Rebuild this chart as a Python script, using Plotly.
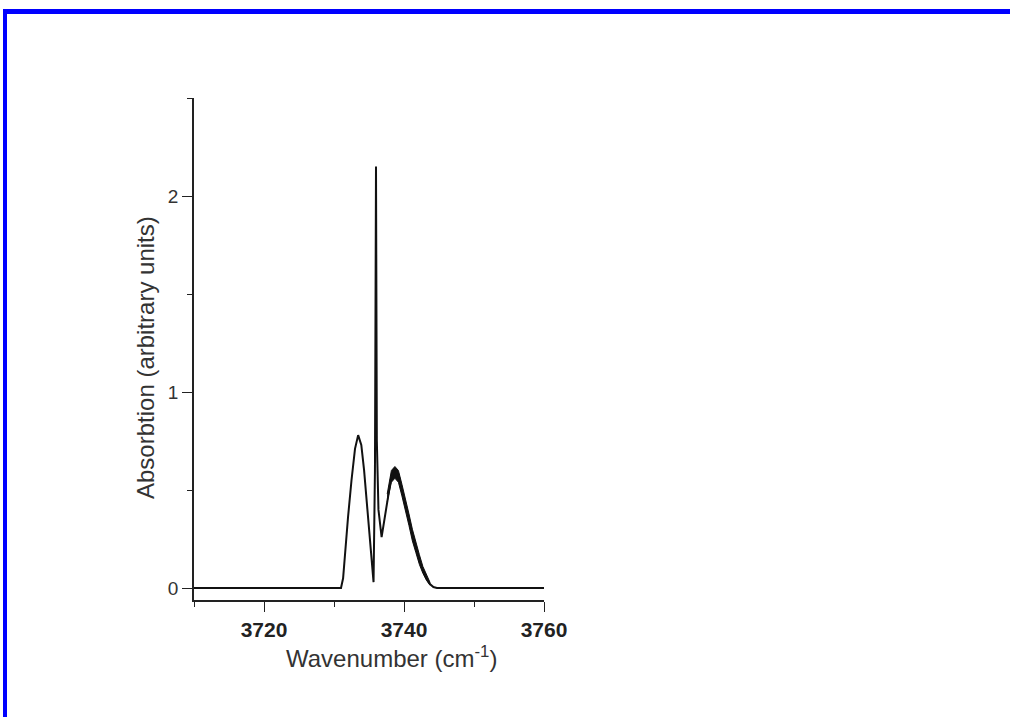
import plotly.graph_objects as go

# ---- data ----
wavenumber = [3710.0, 3731.0, 3731.3, 3731.6, 3732.0, 3732.5, 3733.0, 3733.45, 3733.9,
              3734.3, 3734.7, 3735.1, 3735.4, 3735.65, 3735.85, 3736.0, 3736.12, 3736.35,
              3736.8, 3737.2, 3737.7, 3738.2, 3738.7, 3739.2, 3739.7, 3740.2, 3740.7,
              3741.2, 3741.7, 3742.2, 3742.7, 3743.2, 3743.7, 3744.2, 3744.7, 3760.0]
absorption = [0.0, 0.0, 0.05, 0.2, 0.36, 0.55, 0.71, 0.78, 0.73,
              0.6, 0.43, 0.25, 0.1, 0.03, 0.6, 2.15, 0.75, 0.4,
              0.26, 0.35, 0.48, 0.57, 0.61, 0.58, 0.5, 0.43, 0.35,
              0.27, 0.2, 0.14, 0.09, 0.05, 0.02, 0.005, 0.0, 0.0]

# noisy band (upper / lower envelope) on the right-hand peak
band_x = [3737.6, 3738.2, 3738.7, 3739.2, 3739.7, 3740.2, 3740.7, 3741.2, 3741.7,
          3742.2, 3742.7, 3743.2, 3743.7]
band_upper = [0.48, 0.60, 0.62, 0.60, 0.53, 0.46, 0.38, 0.30, 0.23, 0.17, 0.11, 0.065, 0.03]
band_lower = [0.44, 0.54, 0.56, 0.54, 0.47, 0.40, 0.32, 0.24, 0.18, 0.12, 0.075, 0.04, 0.015]

x_tick_vals = [3720, 3740, 3760]
y_tick_vals = [0, 1, 2]

# ---- layout geometry ----
W, H = 1010, 717
L, R, T, B = 194, 544, 98, 600


def px(x):
    return (x - L) / (R - L)


def py(y):
    return (B - y) / (B - T)


fig = go.Figure()

fig.add_trace(go.Scatter(
    x=band_x + band_x[::-1], y=band_upper + band_lower[::-1],
    fill="toself", fillcolor="#111111", line=dict(color="#111111", width=1),
    mode="lines", hoverinfo="skip", showlegend=False))

fig.add_trace(go.Scatter(
    x=wavenumber, y=absorption, mode="lines",
    line=dict(color="#111111", width=2), showlegend=False))

axis_common = dict(showgrid=False, zeroline=False, showline=True,
                   linecolor="#222222", linewidth=1.6, ticks="outside",
                   tickcolor="#222222", tickwidth=1.4, mirror=False)

fig.update_xaxes(range=[3710, 3760], tickvals=x_tick_vals,
                 ticktext=[f"<b>{v}</b>" for v in x_tick_vals],
                 ticklen=10,
                 tickfont=dict(family="Liberation Sans, Arial, sans-serif", size=21, color="#222222"),
                 minor=dict(tickvals=[3710, 3730, 3750], ticklen=5, ticks="outside",
                            tickcolor="#222222", tickwidth=1.4),
                 **axis_common)
fig.update_yaxes(range=[-0.061, 2.5], tickvals=y_tick_vals,
                 ticklen=10,
                 tickfont=dict(family="Liberation Sans, Arial, sans-serif", size=19, color="#333333"),
                 minor=dict(tickvals=[0.5, 1.5, 2.5], ticklen=5, ticks="outside",
                            tickcolor="#222222", tickwidth=1.4),
                 **axis_common)

fig.add_annotation(text="Wavenumber (cm<sup>-1</sup>)", xref="paper", yref="paper",
                   x=px(391), y=py(657), xanchor="center", yanchor="middle",
                   showarrow=False,
                   font=dict(family="Liberation Sans, Arial, sans-serif", size=24, color="#333333"))
fig.add_annotation(text="Absorbtion (arbitrary units)", xref="paper", yref="paper",
                   x=px(145), y=py(358), xanchor="center", yanchor="middle",
                   textangle=-90, showarrow=False,
                   font=dict(family="Liberation Sans, Arial, sans-serif", size=24, color="#333333"))

# blue frame (top and left edges visible in the reference)
fig.add_shape(type="rect", xref="paper", yref="paper",
              x0=px(3), x1=px(1012), y0=py(14), y1=py(9),
              fillcolor="#0000ff", line=dict(width=0), layer="above")
fig.add_shape(type="rect", xref="paper", yref="paper",
              x0=px(3), x1=px(7), y0=py(720), y1=py(9),
              fillcolor="#0000ff", line=dict(width=0), layer="above")

fig.update_layout(width=W, height=H, autosize=False,
                  margin=dict(l=L, r=W - R, t=T, b=H - B, pad=0),
                  paper_bgcolor="white", plot_bgcolor="white",
                  showlegend=False)

fig.write_html("out.html", config={"displayModeBar": False},
               post_script="document.body.style.margin='0';document.body.style.overflow='hidden';")
